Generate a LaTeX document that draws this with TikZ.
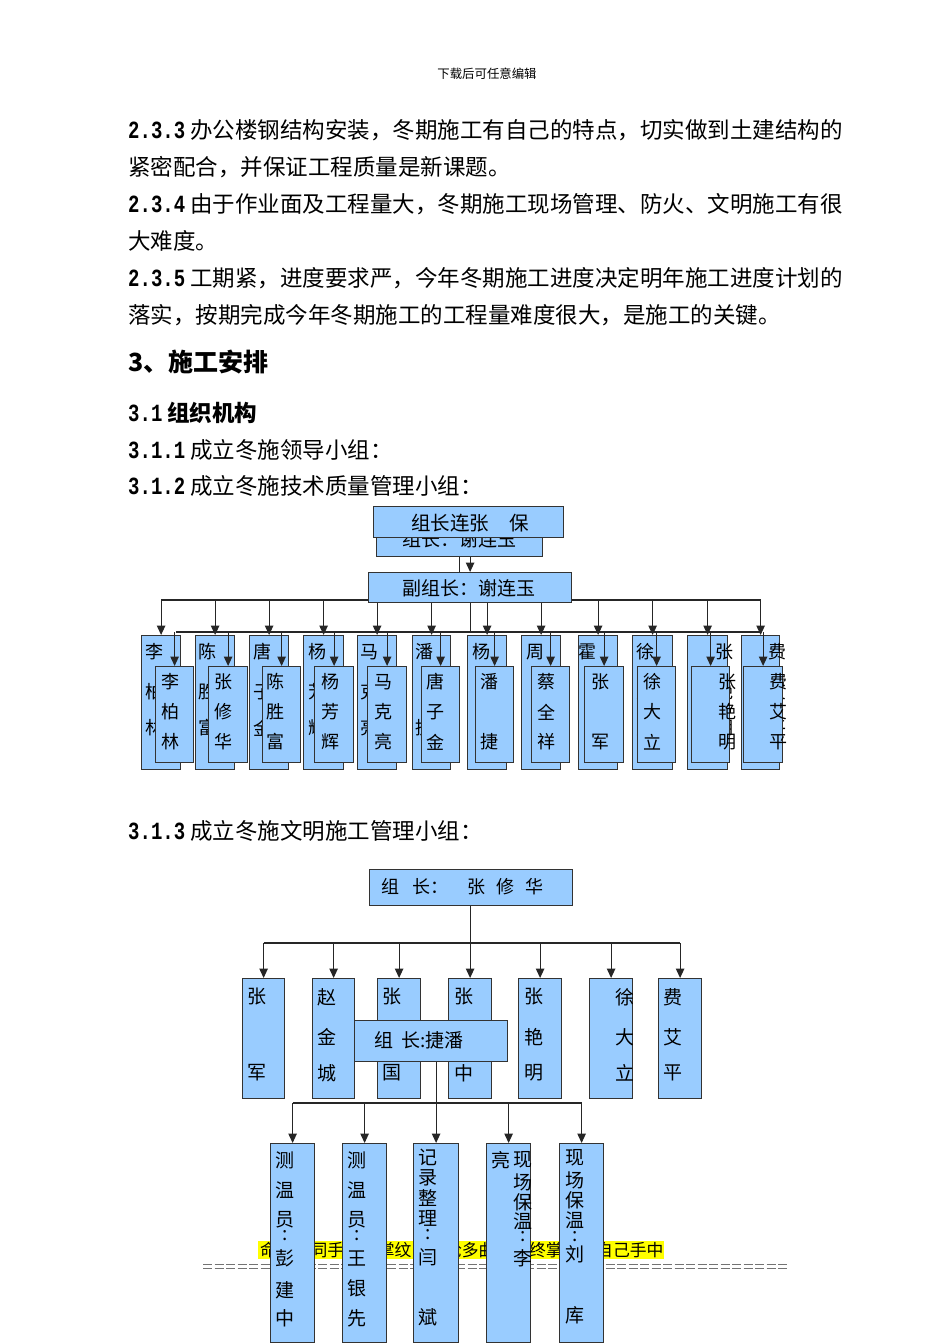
\documentclass[tikz,border=0pt]{standalone}
\usepackage{fontspec}
\usepackage{graphicx}
\setmainfont{Noto Sans CJK SC}
\newfontfamily\numfont{Liberation Mono}
\usetikzlibrary{arrows.meta}
\definecolor{boxblue}{RGB}{153,204,255}
\definecolor{hlyellow}{RGB}{255,255,0}
\newcommand\secnum[1]{\scalebox{1}[1.3]{\numfont\bfseries\fontsize{19}{20}\selectfont #1}}
\newcommand\colchars[4][]{\foreach \yy/\cc [count=\k] in {#4} {\node[ch,#1] (#2-\k) at (#3,\yy) {\cc};}}
\newcommand\mkbox[5]{\node[bx,anchor=north west,minimum width=#4pt,minimum height=#5pt] (#1) at (#2,#3) {};}
\begin{document}
\begin{tikzpicture}[x=1pt,y=-1pt,
  bx/.style={draw=black!80,line width=1.2pt,fill=boxblue,inner sep=0pt},
  ln/.style={draw=black!85,line width=1.1pt},
  arr/.style={ln,-{Triangle[length=9.5pt,width=8.5pt]}},
  body/.style={anchor=west,inner sep=0pt,font=\fontsize{22.5}{27}\selectfont},
  ch/.style={inner sep=0pt,font=\fontsize{18}{20}\selectfont},
  ch2/.style={font=\fontsize{19}{21}\selectfont},
  lbl/.style={inner sep=0pt,font=\fontsize{19}{21}\selectfont}]
\useasboundingbox[fill=white] (0,0) rectangle (950,1344);

% header
\node[inner sep=0pt,font=\fontsize{12.4}{14}\selectfont] (hdr) at (487,74) {下载后可任意编辑};

% body text
\node[body] (p1) at (128,130) {\secnum{2.3.3}\hspace{5pt}办公楼钢结构安装，冬期施工有自己的特点，切实做到土建结构的};
\node[body] (p2) at (128,167) {紧密配合，并保证工程质量是新课题。};
\node[body] (p3) at (128,204) {\secnum{2.3.4}\hspace{5pt}由于作业面及工程量大，冬期施工现场管理、防火、文明施工有很};
\node[body] (p4) at (128,241) {大难度。};
\node[body] (p5) at (128,278) {\secnum{2.3.5}\hspace{5pt}工期紧，进度要求严，今年冬期施工进度决定明年施工进度计划的};
\node[body] (p6) at (128,315) {落实，按期完成今年冬期施工的工程量难度很大，是施工的关键。};
\node[body,font=\fontsize{25}{30}\selectfont\bfseries] (h1) at (128,362) {3、施工安排};
\node[body] (h2) at (128,413) {\secnum{3.1}\hspace{5pt}{\bfseries 组织机构}};
\node[body] (h3) at (128,450) {\secnum{3.1.1}\hspace{5pt}成立冬施领导小组：};
\node[body] (h4) at (128,486) {\secnum{3.1.2}\hspace{5pt}成立冬施技术质量管理小组：};
\node[body] (h5) at (128,831) {\secnum{3.1.3}\hspace{5pt}成立冬施文明施工管理小组：};

% ===== chart 1 =====
\mkbox{B0}{376}{515}{166}{41}
\node[lbl] (B0t) at (459,539) {组长：谢连玉};
\mkbox{F0}{373}{506}{190}{31}
\node[lbl,font=\fontsize{19.5}{21}\selectfont] (F0t) at (470,523) {组长连张\hspace{20pt}保};
\coordinate (L1) at (0,600);
\coordinate (L2) at (0,632);
% back boxes
\mkbox{b1}{141}{635}{39}{134}
\mkbox{b2}{195}{635}{39}{134}
\mkbox{b3}{249}{635}{39}{134}
\mkbox{b4}{303}{635}{40}{134}
\mkbox{b5}{357}{635}{39}{134}
\mkbox{b6}{412}{635}{38}{134}
\mkbox{b7}{467}{635}{39}{134}
\mkbox{b8}{521}{635}{39}{134}
\mkbox{b9}{578}{635}{39}{134}
\mkbox{b10}{632}{635}{40}{134}
\mkbox{b11}{687}{635}{40}{134}
\mkbox{b12}{741}{635}{38}{134}
\colchars{b1t}{154}{652/李,692/柏,728/林}
\colchars{b2t}{207}{652/陈,692/胜,728/富}
\colchars{b3t}{262}{652/唐,692/子,728/金}
\colchars{b4t}{317}{652/杨,692/芳,728/辉}
\colchars{b5t}{369}{652/马,692/克,728/亮}
\colchars{b6t}{424}{652/潘,728/捷}
\colchars{b7t}{481}{652/杨}
\colchars{b8t}{535}{652/周}
\colchars{b9t}{587}{652/霍}
\colchars{b10t}{645}{652/徐,692/大,728/立}
\colchars{b11t}{724}{652/张,692/艳,728/明}
\colchars{b12t}{777}{652/费,692/艾,728/平}
% connectors level 1
\draw[ln] (B0.south) -- (B0.south |- 0,572);
\draw[ln] (b1.north |- L1) -- (b12.north |- L1);
\foreach \b in {b1,b2,b3,b4,b5,b6,b7,b8,b9,b10,b11,b12} {\draw[arr] (\b.north |- L1) -- (\b.north);}
\mkbox{F1}{368}{572}{203}{30}
\node[lbl] (F1t) at (469,588) {副组长：谢连玉};
\draw[arr] (F1.north |- B0.south) -- (F1.north);
\draw[ln] (F1.south) -- (F1.south |- L2);
\draw[ln] (176,632) -- (761,632);
% front boxes
\mkbox{f1}{155}{666}{38}{96}
\mkbox{f2}{208}{666}{39}{96}
\mkbox{f3}{262}{666}{38}{96}
\mkbox{f4}{314}{666}{39}{96}
\mkbox{f5}{367}{666}{39}{96}
\mkbox{f6}{421}{666}{38}{96}
\mkbox{f7}{475}{666}{38}{96}
\mkbox{f8}{531}{666}{38}{96}
\mkbox{f9}{584}{666}{39}{96}
\mkbox{f10}{637}{666}{38}{96}
\mkbox{f11}{691}{666}{38}{96}
\mkbox{f12}{743}{666}{39}{96}
\foreach \b in {f1,f2,f3,f4,f5,f6,f7,f8,f9,f10,f11,f12} {\draw[arr] (\b.north |- L2) -- (\b.north);}
\colchars{f1t}{170}{682/李,712/柏,742/林}
\colchars{f2t}{223}{682/张,712/修,742/华}
\colchars{f3t}{275}{682/陈,712/胜,742/富}
\colchars{f4t}{330}{682/杨,712/芳,742/辉}
\colchars{f5t}{383}{682/马,712/克,742/亮}
\colchars{f6t}{435}{682/唐,712/子,742/金}
\colchars{f7t}{489}{682/潘,742/捷}
\colchars{f8t}{546}{682/蔡,712/全,742/祥}
\colchars{f9t}{600}{682/张,742/军}
\colchars{f10t}{652}{682/徐,712/大,742/立}
\colchars{f11t}{727}{682/张,712/艳,742/明}
\colchars{f12t}{778}{682/费,712/艾,742/平}

% ===== chart 2 =====
\mkbox{T2}{369}{869}{203}{36}
\node[anchor=west,inner sep=0pt,font=\fontsize{18}{20}\selectfont] (T2t) at (381,887) {组\hspace{13pt}长：\hspace{19pt}张\hspace{11pt}修\hspace{11pt}华};
\coordinate (L3) at (0,943);
\mkbox{c1}{242}{978}{42}{120}
\mkbox{c2}{312}{978}{42}{120}
\mkbox{c3}{377}{978}{43}{120}
\mkbox{c4}{448}{978}{43}{120}
\mkbox{c5}{518}{978}{43}{120}
\mkbox{c6}{589}{978}{43}{120}
\mkbox{c7}{658}{978}{43}{120}
\draw[ln] (c4.north |- T2.south) -- (c4.north |- L3);
\draw[ln] (c1.north |- L3) -- (c7.north |- L3);
\foreach \b in {c1,c2,c3,c4,c5,c6,c7} {\draw[arr] (\b.north |- L3) -- (\b.north);}
\colchars[ch2]{c1t}{257}{997/张,1073/军}
\colchars[ch2]{c2t}{327}{997/赵,1037/金,1073/城}
\colchars[ch2]{c3t}{392}{997/张,1073/国}
\colchars[ch2]{c4t}{464}{997/张,1073/中}
\colchars[ch2]{c5t}{534}{997/张,1037/艳,1073/明}
\begin{scope}
\clip (589,978) rectangle (632,1098);
\colchars[ch2]{c6t}{625}{997/徐,1037/大,1073/立}
\end{scope}
\colchars[ch2]{c7t}{673}{997/费,1037/艾,1073/平}
\mkbox{O2}{354}{1020}{153}{41}
\node[anchor=west,inner sep=0pt,font=\fontsize{19}{21}\selectfont] (O2t) at (374,1040) {组\hspace{8pt}长:捷潘};

% footer (behind lower boxes)
\fill[hlyellow] (258,1241) rectangle (664,1259);
\node[anchor=west,inner sep=0pt,font=\fontsize{16.8}{18}\selectfont] (foot) at (260,1250) {命运如同手中的掌纹，无论多曲折，终掌握在自己手中};
\coordinate (eqA) at (203,1264);
\coordinate (eqB) at (787,1264);
\draw[black!55,line width=1pt,dash pattern=on 9pt off 2.5pt] (eqA) -- (eqB);
\draw[black!55,line width=1pt,dash pattern=on 9pt off 2.5pt] ([yshift=-4pt]eqA) -- ([yshift=-4pt]eqB);

% lower boxes
\coordinate (L4) at (0,1103);
\mkbox{d1}{270}{1143}{44}{199}
\mkbox{d2}{342}{1143}{44}{199}
\mkbox{d3}{413}{1143}{45}{199}
\mkbox{d4}{486}{1143}{44}{199}
\mkbox{d5}{559}{1143}{44}{199}
\draw[ln] (d3.north |- O2.south) -- (d3.north |- L4);
\draw[ln] (d1.north |- L4) -- (d5.north |- L4);
\foreach \b in {d1,d2,d3,d4,d5} {\draw[arr] (\b.north |- L4) -- (\b.north);}
\colchars[ch2]{d1t}{285}{1160/测,1190/温,1220/员,1236/:,1258/彭,1290/建,1318/中}
\colchars[ch2]{d2t}{357}{1160/测,1190/温,1220/员,1236/:,1258/王,1288/银,1318/先}
\colchars[ch2]{d3t}{428}{1157/记,1178/录,1198/整,1218/理,1235/:,1257/闫,1317/斌}
\colchars[ch2]{d4a}{501}{1160/亮}
\colchars[ch2]{d4t}{523}{1160/现,1182/场,1202/保,1221/温,1237/:,1258/李}
\colchars[ch2]{d5t}{575}{1158/现,1180/场,1200/保,1220/温,1237/:,1254/刘,1315/库}
\end{tikzpicture}
\end{document}
